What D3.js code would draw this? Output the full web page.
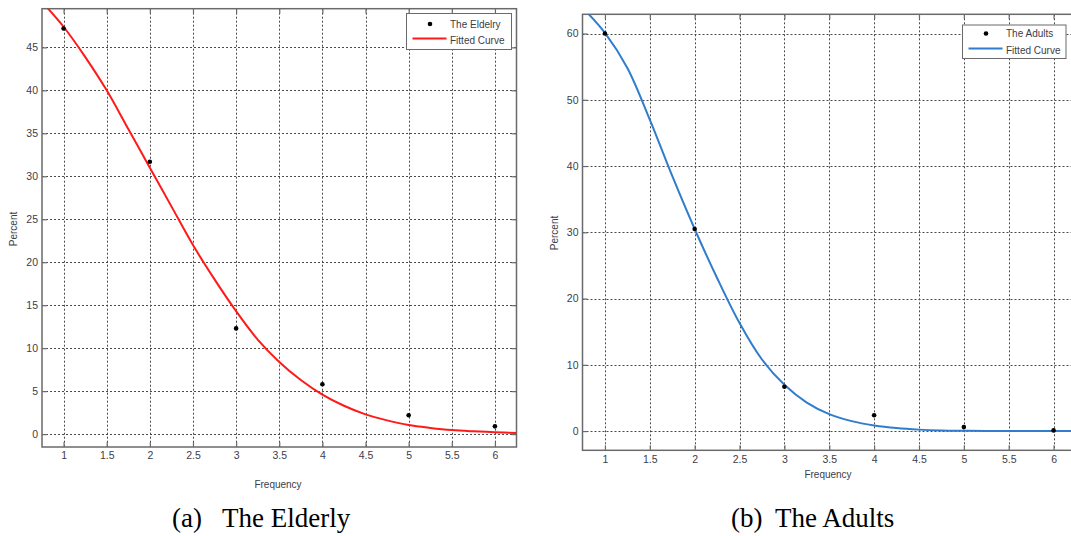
<!DOCTYPE html>
<html>
<head>
<meta charset="utf-8">
<script src="https://cdn.jsdelivr.net/npm/d3@7"></script>
<style>
  body { margin: 0; background: #fff; }
  svg { display: block; }
</style>
</head>
<body>
<svg id="fig" width="1071" height="536"></svg>
<script>
// Observed visit frequency and share of respondents (%)
const frequency = [1, 2, 3, 4, 5, 6];
const elderlyPercent = [47.2, 31.7, 12.3, 5.8, 2.2, 0.9];
const adultsPercent = [60.0, 30.5, 6.7, 2.4, 0.6, 0.1];

// Fitted curves, sampled every 0.25 along the frequency axis
const fitFrequency = [0.75, 1, 1.25, 1.5, 1.75, 2, 2.25, 2.5, 2.75, 3, 3.25, 3.5,
                      3.75, 4, 4.25, 4.5, 4.75, 5, 5.25, 5.5, 5.75, 6, 6.25];
const elderlyFit = [50.3, 47.4, 43.9, 40.0, 35.5, 31.0, 26.5, 22.0, 18.0, 14.3, 11.0, 8.4,
                    6.3, 4.6, 3.3, 2.3, 1.6, 1.05, 0.72, 0.47, 0.33, 0.23, 0.12];
const adultsFit = [63.9, 60.1, 54.8, 47.0, 38.5, 30.5, 23.1, 16.3, 10.8, 7.0, 4.3, 2.55,
                   1.5, 0.85, 0.45, 0.22, 0.1, 0.05, 0.02, 0.01, 0, 0, 0];

// Tick values
const xTicks = [1, 1.5, 2, 2.5, 3, 3.5, 4, 4.5, 5, 5.5, 6];
const elderlyYTicks = [0, 5, 10, 15, 20, 25, 30, 35, 40, 45];
const adultsYTicks = [0, 10, 20, 30, 40, 50, 60];

const svg = d3.select("#fig");
const SANS = "'Liberation Sans', Arial, sans-serif";
const SERIF = "'Liberation Serif', 'Times New Roman', serif";
const TEXT = "#3d3d48";
const FRAME = "#6a6a6a";

function drawPanel(cfg) {
  const g = svg.append("g");
  const x = d3.scaleLinear().domain([0.75, 6.25]).range([cfg.left, cfg.right]);
  const y = d3.scaleLinear().domain(cfg.yDomain).range([cfg.bottom, cfg.top]);
  const w = cfg.right - cfg.left, h = cfg.bottom - cfg.top;

  // dotted grid
  const grid = g.append("g").attr("stroke", "#4a4a4a").attr("stroke-width", 1)
    .attr("stroke-dasharray", "2,2").attr("fill", "none");
  grid.selectAll("line.v").data(xTicks).join("line").attr("class", "v")
    .attr("x1", d => Math.round(x(d)) + 0.5).attr("x2", d => Math.round(x(d)) + 0.5)
    .attr("y1", cfg.top).attr("y2", cfg.bottom);
  grid.selectAll("line.h").data(cfg.yTicks).join("line").attr("class", "h")
    .attr("y1", d => Math.round(y(d)) + 0.5).attr("y2", d => Math.round(y(d)) + 0.5)
    .attr("x1", cfg.left).attr("x2", cfg.right);

  // axes with inward ticks
  const fmt = d3.format("~g");
  const bottomAxis = g.append("g").attr("transform", `translate(0,${cfg.bottom})`)
    .call(d3.axisBottom(x).tickValues(xTicks).tickSize(-5).tickPadding(cfg.xPad).tickFormat(fmt).tickSizeOuter(0));
  const leftAxis = g.append("g").attr("transform", `translate(${cfg.left},0)`)
    .call(d3.axisLeft(y).tickValues(cfg.yTicks).tickSize(-5).tickPadding(4).tickFormat(fmt).tickSizeOuter(0));
  const topAxis = g.append("g").attr("transform", `translate(0,${cfg.top})`)
    .call(d3.axisTop(x).tickValues(xTicks).tickSize(-5).tickFormat("").tickSizeOuter(0));
  const rightAxis = g.append("g").attr("transform", `translate(${cfg.right},0)`)
    .call(d3.axisRight(y).tickValues(cfg.yTicks).tickSize(-5).tickFormat("").tickSizeOuter(0));
  [bottomAxis, leftAxis, topAxis, rightAxis].forEach(a => {
    a.select(".domain").remove();
    a.selectAll(".tick line").attr("stroke", FRAME).attr("stroke-width", 1.2);
    a.selectAll("text").attr("fill", TEXT).attr("font-family", SANS).attr("font-size", 10.5);
  });

  // frame
  g.append("rect").attr("x", cfg.left).attr("y", cfg.top).attr("width", w).attr("height", h)
    .attr("fill", "none").attr("stroke", FRAME).attr("stroke-width", 1.5);

  // fitted curve
  const clipId = "clip-" + cfg.id;
  g.append("clipPath").attr("id", clipId).append("rect")
    .attr("x", cfg.left).attr("y", cfg.top).attr("width", w).attr("height", h);
  const line = d3.line().x(d => x(d[0])).y(d => y(d[1])).curve(d3.curveCatmullRom);
  g.append("path").datum(d3.zip(fitFrequency, cfg.fit))
    .attr("clip-path", `url(#${clipId})`)
    .attr("d", line).attr("fill", "none").attr("stroke", cfg.color).attr("stroke-width", 2);

  // observed points
  g.selectAll("circle.obs").data(d3.zip(frequency, cfg.values)).join("circle")
    .attr("class", "obs").attr("cx", d => x(d[0])).attr("cy", d => y(d[1]))
    .attr("r", 2.3).attr("fill", "#000");

  // axis titles
  g.append("text").attr("x", cfg.xLabel[0]).attr("y", cfg.xLabel[1])
    .attr("text-anchor", "middle").attr("dominant-baseline", "central")
    .attr("font-family", SANS).attr("font-size", 10).attr("fill", TEXT).text("Frequency");
  g.append("text").attr("transform", `translate(${cfg.yLabel[0]},${cfg.yLabel[1]}) rotate(-90)`)
    .attr("text-anchor", "middle").attr("dominant-baseline", "central")
    .attr("font-family", SANS).attr("font-size", 10).attr("fill", TEXT).text("Percent");

  // legend
  const L = cfg.legend;
  const lg = g.append("g");
  lg.append("rect").attr("x", L.x).attr("y", L.y).attr("width", L.w).attr("height", L.h)
    .attr("fill", "#fff").attr("stroke", FRAME).attr("stroke-width", 1);
  lg.append("circle").attr("cx", L.x + 23.5).attr("cy", L.y + L.r1).attr("r", 2.3).attr("fill", "#000");
  lg.append("line").attr("x1", L.x + 6).attr("x2", L.x + 40).attr("y1", L.y + L.r2).attr("y2", L.y + L.r2)
    .attr("stroke", cfg.color).attr("stroke-width", 2);
  lg.append("text").attr("x", L.x + 43.5).attr("y", L.y + L.r1)
    .attr("dominant-baseline", "central").attr("font-family", SANS).attr("font-size", 10)
    .attr("fill", TEXT).text(cfg.name);
  lg.append("text").attr("x", L.x + 43.5).attr("y", L.y + L.r2 + 1.5)
    .attr("dominant-baseline", "central").attr("font-family", SANS).attr("font-size", 10)
    .attr("fill", TEXT).text("Fitted Curve");

  // caption
  g.append("text").attr("x", cfg.caption[0]).attr("y", 527)
    .attr("font-family", SERIF).attr("font-size", 27).attr("fill", "#000").text(cfg.tag);
  g.append("text").attr("x", cfg.caption[1]).attr("y", 527)
    .attr("font-family", SERIF).attr("font-size", 27).attr("fill", "#000").text(cfg.title);
}

drawPanel({
  id: "elderly", name: "The Eldelry", tag: "(a)", title: "The Elderly",
  left: 42, right: 516.5, top: 8.7, bottom: 447, yDomain: [-1.5, 49.5],
  yTicks: elderlyYTicks, values: elderlyPercent, fit: elderlyFit, color: "#ff1a1a",
  xPad: 5, xLabel: [278, 484], yLabel: [13.5, 229],
  legend: { x: 406.5, y: 13.5, w: 105, h: 36, r1: 10.5, r2: 25 },
  caption: [172, 222]
});

drawPanel({
  id: "adults", name: "The Adults", tag: "(b)", title: "The Adults",
  left: 582.5, right: 1076, top: 14.3, bottom: 450.3, yDomain: [-2.9, 62.9],
  yTicks: adultsYTicks, values: adultsPercent, fit: adultsFit, color: "#2f7dcc",
  xPad: 5, xLabel: [828, 474], yLabel: [554.5, 233],
  legend: { x: 962.5, y: 25, w: 103.5, h: 33.5, r1: 8.5, r2: 23.5 },
  caption: [731, 775]
});
</script>
</body>
</html>
